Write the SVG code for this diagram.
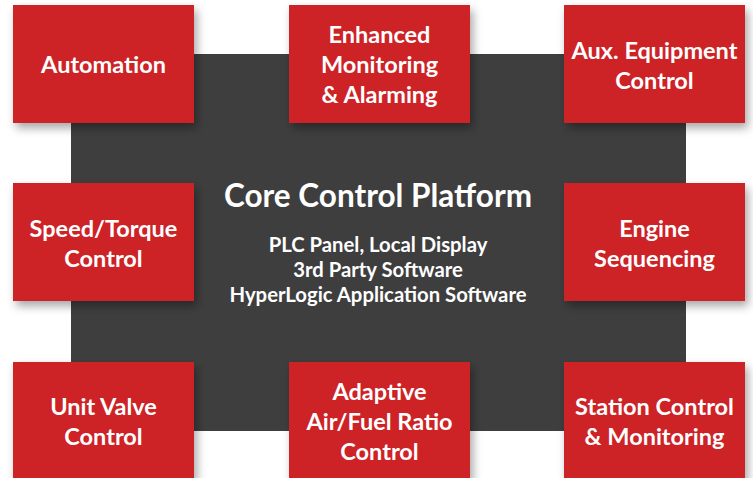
<svg xmlns="http://www.w3.org/2000/svg" width="753" height="478" viewBox="0 0 753 478">
<defs>
<filter id="sh" x="-20%" y="-20%" width="150%" height="160%">
<feDropShadow dx="3" dy="5" stdDeviation="5" flood-color="#000" flood-opacity="0.35"/>
</filter>
</defs>
<style>
.box{fill:#CD2028;filter:url(#sh)}
.t{font-family:Lato,"Liberation Sans",sans-serif;font-weight:bold;font-size:23.5px;fill:#fff;text-anchor:middle}
.title{font-family:Lato,"Liberation Sans",sans-serif;font-weight:bold;font-size:31.5px;fill:#fff;text-anchor:middle}
.sub{font-family:Lato,"Liberation Sans",sans-serif;font-weight:bold;font-size:20.3px;fill:#fff;text-anchor:middle}
</style>
<rect width="753" height="478" fill="#fff"/>
<g id="core">
<rect x="71" y="54" width="615" height="377" fill="#3E3E3E"/>
<text class="title" x="378" y="207">Core Control Platform</text>
<text class="sub" x="378" y="252">PLC Panel, Local Display</text>
<text class="sub" x="378" y="277">3rd Party Software</text>
<text class="sub" x="378" y="302">HyperLogic Application Software</text>
</g>
<g id="connectors"/>
<g id="automation">
<rect class="box" x="13" y="5" width="181" height="118"/>
<text class="t" x="103.5" y="73">Automation</text>
</g>
<g id="monitoring">
<rect class="box" x="289" y="5" width="181" height="118"/>
<text class="t" x="379.5" y="43">Enhanced</text>
<text class="t" x="379.5" y="73">Monitoring</text>
<text class="t" x="379.5" y="103">&amp; Alarming</text>
</g>
<g id="aux">
<rect class="box" x="564" y="5" width="181" height="118"/>
<text class="t" x="654.5" y="59">Aux. Equipment</text>
<text class="t" x="654.5" y="89">Control</text>
</g>
<g id="speed">
<rect class="box" x="13" y="183" width="181" height="118"/>
<text class="t" x="103.5" y="237">Speed/Torque</text>
<text class="t" x="103.5" y="267">Control</text>
</g>
<g id="engine">
<rect class="box" x="564" y="183" width="181" height="118"/>
<text class="t" x="654.5" y="237">Engine</text>
<text class="t" x="654.5" y="267">Sequencing</text>
</g>
<g id="valve">
<rect class="box" x="13" y="362" width="181" height="118"/>
<text class="t" x="103.5" y="415">Unit Valve</text>
<text class="t" x="103.5" y="445">Control</text>
</g>
<g id="afr">
<rect class="box" x="289" y="362" width="181" height="118"/>
<text class="t" x="379.5" y="400">Adaptive</text>
<text class="t" x="379.5" y="430">Air/Fuel Ratio</text>
<text class="t" x="379.5" y="460">Control</text>
</g>
<g id="station">
<rect class="box" x="564" y="362" width="181" height="118"/>
<text class="t" x="654.5" y="415">Station Control</text>
<text class="t" x="654.5" y="445">&amp; Monitoring</text>
</g>
</svg>
